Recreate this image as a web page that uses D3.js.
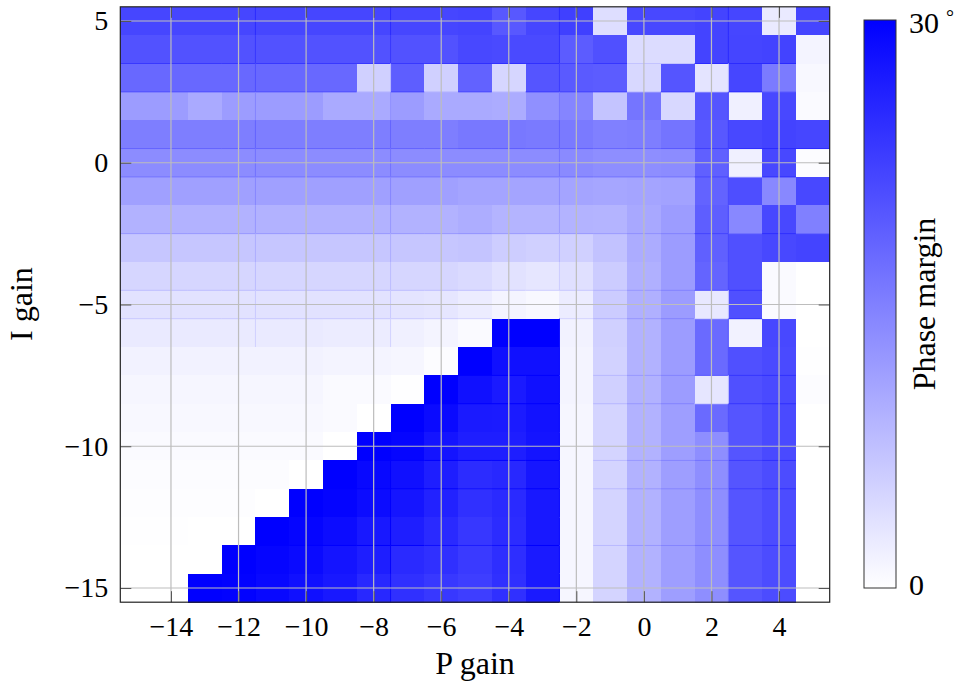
<!DOCTYPE html>
<html>
<head>
<meta charset="utf-8">
<script src="https://cdn.jsdelivr.net/npm/d3@7"></script>
<style>
  html, body { margin: 0; padding: 0; background: #ffffff; }
  svg { display: block; }
</style>
</head>
<body>
<svg id="chart" width="955" height="686"></svg>
<script>
// P gain along x, I gain along y (top row is I = 5)
const pGain = [-15, -14, -13, -12, -11, -10, -9, -8, -7, -6, -5, -4, -3, -2, -1, 0, 1, 2, 3, 4, 5];
const iGain = [5, 4, 3, 2, 1, 0, -1, -2, -3, -4, -5, -6, -7, -8, -9, -10, -11, -12, -13, -14, -15];

// Phase margin in degrees, one row per I gain value, columns follow pGain
const phaseMargin = [
  /* I=5   */ [21.8, 21.8, 21.8, 21.8, 21.8, 21.8, 21.8, 21.8, 21.8, 21.8, 22.0, 19.6, 21.8, 22.5, 3.9, 21.5, 21.5, 22.0, 21.8, 2.5, 21.9],
  /* I=4   */ [20.4, 20.4, 20.4, 20.4, 20.4, 20.4, 20.4, 20.4, 20.4, 20.4, 21.5, 21.3, 21.3, 19.2, 20.6, 4.1, 4.1, 22.0, 21.9, 22.1, 1.3],
  /* I=3   */ [17.8, 17.8, 17.8, 17.8, 17.8, 17.8, 17.8, 5.5, 18.9, 5.5, 18.5, 4.8, 20.0, 19.4, 19.2, 4.6, 20.0, 3.2, 21.8, 15.5, 0.8],
  /* I=2   */ [11.6, 11.6, 10.0, 11.6, 11.6, 11.6, 10.0, 10.0, 11.6, 10.0, 10.0, 9.8, 13.1, 14.4, 6.9, 16.2, 4.6, 20.0, 1.8, 21.5, 0.6],
  /* I=1   */ [15.2, 15.2, 15.2, 15.2, 15.2, 15.2, 15.2, 15.2, 15.2, 15.2, 15.9, 15.9, 15.6, 15.6, 14.9, 15.2, 16.4, 19.6, 21.5, 22.1, 21.8],
  /* I=0   */ [13.5, 13.5, 13.5, 13.5, 13.5, 13.5, 13.5, 13.5, 13.5, 13.5, 13.5, 13.5, 13.5, 13.8, 13.3, 13.3, 13.5, 18.7, 1.8, 21.5, 0.4],
  /* I=-1  */ [11.2, 11.2, 11.2, 11.2, 11.2, 11.2, 11.2, 11.2, 11.2, 11.2, 10.7, 10.7, 10.7, 10.7, 10.5, 10.7, 11.0, 18.4, 20.8, 14.0, 21.5],
  /* I=-2  */ [9.1, 9.1, 9.1, 9.1, 9.1, 9.1, 9.1, 9.1, 9.1, 9.1, 9.6, 8.8, 8.8, 9.0, 8.8, 10.2, 11.6, 18.9, 14.0, 21.5, 14.9],
  /* I=-3  */ [6.7, 6.7, 6.7, 6.7, 6.7, 6.7, 6.7, 6.7, 6.7, 6.7, 6.9, 5.9, 5.5, 5.5, 7.2, 9.8, 11.6, 18.7, 20.6, 21.5, 22.0],
  /* I=-4  */ [4.8, 4.8, 4.8, 4.8, 4.8, 4.8, 4.8, 4.8, 4.8, 4.8, 4.4, 3.4, 2.9, 3.6, 6.0, 9.3, 11.6, 18.2, 20.6, 0.6, 0.0],
  /* I=-5  */ [3.4, 3.4, 3.4, 3.4, 3.4, 3.4, 3.4, 3.4, 3.2, 2.9, 2.2, 1.3, 0.8, 2.2, 6.0, 9.3, 11.6, 2.7, 20.6, 0.6, 0.0],
  /* I=-6  */ [2.5, 2.5, 2.5, 2.5, 2.5, 2.5, 2.2, 2.2, 1.8, 1.3, 0.6, 30.0, 30.0, 1.5, 5.5, 9.1, 11.6, 17.5, 1.5, 21.5, 0.0],
  /* I=-7  */ [1.5, 1.5, 1.5, 1.5, 1.5, 1.5, 1.3, 1.3, 1.1, 0.4, 30.0, 28.1, 28.1, 1.3, 5.3, 9.1, 11.6, 17.5, 20.6, 21.3, 0.1],
  /* I=-8  */ [1.1, 1.1, 1.1, 1.1, 1.1, 1.1, 0.6, 0.6, 0.1, 30.0, 28.1, 27.0, 28.1, 1.3, 5.5, 9.1, 11.6, 2.9, 20.6, 21.3, 0.4],
  /* I=-9  */ [0.8, 0.8, 0.8, 0.8, 0.8, 0.8, 0.6, 0.0, 30.0, 28.8, 27.0, 26.8, 27.9, 1.1, 5.1, 9.1, 11.4, 17.5, 20.0, 21.3, 0.0],
  /* I=-10 */ [0.6, 0.6, 0.6, 0.6, 0.6, 0.6, 0.0, 30.0, 29.4, 27.6, 26.5, 26.5, 27.6, 1.1, 5.1, 9.1, 11.4, 13.3, 20.0, 21.3, 0.0],
  /* I=-11 */ [0.4, 0.4, 0.4, 0.4, 0.4, 0.0, 30.0, 29.1, 28.1, 26.5, 24.8, 25.3, 27.4, 1.1, 5.1, 9.1, 11.4, 13.3, 20.0, 21.1, 0.0],
  /* I=-12 */ [0.2, 0.2, 0.2, 0.2, 0.0, 30.0, 29.5, 28.6, 27.5, 26.0, 24.4, 25.1, 27.2, 1.1, 5.1, 9.1, 11.4, 13.3, 20.0, 21.1, 0.0],
  /* I=-13 */ [0.1, 0.1, 0.0, 0.0, 30.0, 29.4, 28.6, 27.2, 26.5, 25.1, 23.5, 24.8, 27.2, 1.1, 5.1, 9.1, 11.4, 13.3, 20.0, 21.1, 0.0],
  /* I=-14 */ [0.0, 0.0, 0.0, 30.0, 29.4, 28.8, 27.6, 26.5, 25.1, 24.4, 23.2, 24.6, 27.0, 1.1, 5.1, 9.1, 11.4, 13.3, 20.0, 21.1, 0.0],
  /* I=-15 */ [0.0, 0.0, 30.0, 29.8, 29.1, 28.1, 27.2, 25.3, 24.4, 23.4, 22.7, 24.4, 27.0, 1.1, 5.1, 9.1, 11.4, 13.3, 20.0, 21.1, 0.0]
];

const xTicks = [-14, -12, -10, -8, -6, -4, -2, 0, 2, 4];
const yTicks = [5, 0, -5, -10, -15];
const colorRange = [0, 30];
const colorbarLabels = ["0", "30"];

// patch seams of the shaded matrix (cell edges, in gain units)
const seamP = [-11.5, -7.5, -2.5, 2.5];
const seamI = [3.5, 2.5, 0.5, -0.5, -2.5, -4.5, -5.5, -7.5, -8.5, -10.5, -11.5, -13.5];

const SERIF = "'Liberation Serif', 'DejaVu Serif', serif";

const svg = d3.select("#chart");
const plot = { left: 120.3, right: 829.7, top: 6.8, bottom: 602.2 };

const x = d3.scaleLinear().domain([-15.5, 5.5]).range([plot.left, plot.right]);
const y = d3.scaleLinear().domain([-15.5, 5.5]).range([plot.bottom, plot.top]);
const color = d3.scaleLinear().domain(colorRange).range(["#ffffff", "#0000ff"])
  .interpolate(d3.interpolateRgb).clamp(true);

// heat-map cells
const cells = [];
iGain.forEach((iv, r) => pGain.forEach((pv, c) => cells.push({ p: pv, i: iv, v: phaseMargin[r][c] })));
const valueAt = (p, i) => phaseMargin[iGain.indexOf(i)][pGain.indexOf(p)];

svg.append("rect").attr("width", 955).attr("height", 686).attr("fill", "#fff");

svg.append("g")
  .attr("shape-rendering", "crispEdges")
  .selectAll("rect")
  .data(cells)
  .join("rect")
  .attr("x", d => x(d.p - 0.5))
  .attr("y", d => y(d.i + 0.5))
  .attr("width", d => x(d.p + 0.5) - x(d.p - 0.5) + 0.5)
  .attr("height", d => y(d.i - 0.5) - y(d.i + 0.5) + 0.5)
  .attr("fill", d => color(d.v));

// seams between patches: a slightly deeper shade of the neighbouring cell
const seamSegs = [];
seamI.forEach(b => pGain.forEach(p => {
  const v = valueAt(p, b + 0.5);
  if (v > 1.5) seamSegs.push({ x1: p - 0.5, x2: p + 0.5, y1: b, y2: b, v });
}));
seamP.forEach(b => iGain.forEach(i => {
  const v = valueAt(b - 0.5, i);
  if (v > 1.5) seamSegs.push({ x1: b, x2: b, y1: i - 0.5, y2: i + 0.5, v });
}));
svg.append("g").attr("stroke-width", 1)
  .selectAll("line").data(seamSegs).join("line")
  .attr("x1", d => x(d.x1)).attr("x2", d => x(d.x2))
  .attr("y1", d => y(d.y1)).attr("y2", d => y(d.y2))
  .attr("stroke", d => color(d.v + 3));

// grid
const grid = svg.append("g").attr("stroke", "#bdbdbd").attr("stroke-width", 1.2);
grid.selectAll(".gx").data(xTicks).join("line")
  .attr("x1", d => x(d)).attr("x2", d => x(d))
  .attr("y1", plot.top).attr("y2", plot.bottom);
grid.selectAll(".gy").data(yTicks).join("line")
  .attr("x1", plot.left).attr("x2", plot.right)
  .attr("y1", d => y(d)).attr("y2", d => y(d));

// axes with inward ticks on all four sides
const tickLen = 11;
const fmt = d3.format("d");

const gBottom = svg.append("g").attr("transform", `translate(0,${plot.bottom})`)
  .call(d3.axisBottom(x).tickValues(xTicks).tickFormat(fmt).tickSizeInner(-tickLen).tickSizeOuter(0).tickPadding(14));
const gLeft = svg.append("g").attr("transform", `translate(${plot.left},0)`)
  .call(d3.axisLeft(y).tickValues(yTicks).tickFormat(fmt).tickSizeInner(-tickLen).tickSizeOuter(0).tickPadding(12));
const gTop = svg.append("g").attr("transform", `translate(0,${plot.top})`)
  .call(d3.axisTop(x).tickValues(xTicks).tickFormat("").tickSizeInner(-tickLen).tickSizeOuter(0));
const gRight = svg.append("g").attr("transform", `translate(${plot.right},0)`)
  .call(d3.axisRight(y).tickValues(yTicks).tickFormat("").tickSizeInner(-tickLen).tickSizeOuter(0));

[gBottom, gLeft, gTop, gRight].forEach(g => {
  g.attr("font-family", SERIF).attr("font-size", 28);
  g.select(".domain").remove();
  g.selectAll(".tick line").attr("stroke", "#555").attr("stroke-width", 1);
  g.selectAll(".tick text").attr("fill", "#000");
});

// plot frame
svg.append("rect")
  .attr("x", plot.left).attr("y", plot.top)
  .attr("width", plot.right - plot.left).attr("height", plot.bottom - plot.top)
  .attr("fill", "none").attr("stroke", "#222").attr("stroke-width", 1.2);

// axis titles
svg.append("text")
  .attr("x", (plot.left + plot.right) / 2).attr("y", 674)
  .attr("text-anchor", "middle")
  .attr("font-family", SERIF).attr("font-size", 32)
  .text("P gain");
svg.append("text")
  .attr("transform", "translate(32,304) rotate(-90)")
  .attr("text-anchor", "middle")
  .attr("font-family", SERIF).attr("font-size", 32)
  .text("I gain");

// colour bar
const cb = { x: 864, y: 20, w: 32, h: 568 };
const cy = d3.scaleLinear().domain(colorRange).range([cb.y + cb.h, cb.y]);

const defs = svg.append("defs");
const grad = defs.append("linearGradient").attr("id", "pmGrad")
  .attr("x1", 0).attr("y1", 1).attr("x2", 0).attr("y2", 0);
d3.range(0, 1.0001, 0.1).forEach(t => {
  grad.append("stop").attr("offset", t).attr("stop-color", color(colorRange[0] + t * (colorRange[1] - colorRange[0])));
});

svg.append("rect")
  .attr("x", cb.x).attr("y", cy(colorRange[1]))
  .attr("width", cb.w).attr("height", cy(colorRange[0]) - cy(colorRange[1]))
  .attr("fill", "url(#pmGrad)")
  .attr("stroke", "#333").attr("stroke-width", 1);

// colour bar end labels
svg.append("text")
  .attr("x", cb.x + cb.w + 13).attr("y", cy(colorRange[0]) + 7)
  .attr("font-family", SERIF).attr("font-size", 30)
  .text(colorbarLabels[0]);
const topLbl = svg.append("text")
  .attr("x", cb.x + cb.w + 13).attr("y", cy(colorRange[1]) + 13)
  .attr("font-family", SERIF).attr("font-size", 30);
topLbl.append("tspan").text(colorbarLabels[1]);
topLbl.append("tspan").attr("dx", 7).attr("dy", -9).attr("font-size", 20).text("°");

svg.append("text")
  .attr("transform", "translate(935,304) rotate(-90)")
  .attr("text-anchor", "middle")
  .attr("font-family", SERIF).attr("font-size", 32)
  .text("Phase margin");
</script>
</body>
</html>
